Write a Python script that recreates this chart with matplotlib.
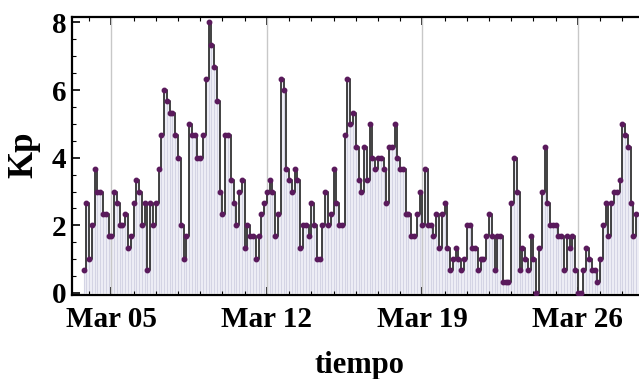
import numpy as np
import pandas as pd
import matplotlib
matplotlib.use("Agg")
import matplotlib.pyplot as plt
import matplotlib.dates as mdates
from matplotlib.ticker import MultipleLocator

# Kp index, 3-hourly, March 2012
kp_part1 = [0.67, 2.67, 1.0, 2.0, 3.67, 3.0, 3.0, 2.33, 2.33, 1.67, 1.67, 3.0, 2.67,
            2.0, 2.0, 2.33, 1.33, 1.67, 2.67, 3.33, 3.0, 2.0, 2.67, 0.67, 2.67, 2.0,
            2.67, 3.67, 4.67, 6.0, 5.67, 5.33, 5.33, 4.67, 4.0, 2.0, 1.0, 1.67, 5.0,
            4.67, 4.67, 4.0, 4.0, 4.67, 6.33, 8.0, 7.33, 6.67, 5.67, 3.0, 2.33, 4.67,
            4.67, 3.33, 2.67, 2.0, 3.0, 3.33, 1.33, 2.0, 1.67, 1.67, 1.0, 1.67]
kp_part2 = [2.33, 2.67, 3.0, 3.33, 3.0, 1.67, 2.33, 6.33, 6.0, 3.67, 3.33, 3.0, 3.67,
            3.33, 1.33, 2.0, 2.0, 1.67, 2.67, 2.0, 1.0, 1.0, 2.0, 3.0, 2.0, 2.33,
            3.67, 2.67, 2.0, 2.0, 4.67, 6.33, 5.0, 5.33, 4.33, 3.33, 3.0, 4.33, 3.33,
            5.0, 4.0, 3.67, 4.0, 4.0, 3.67, 2.67, 4.33, 4.33, 5.0, 4.0, 3.67, 3.67,
            2.33, 2.33, 1.67, 1.67, 2.33, 3.0, 2.0, 3.67, 2.0, 2.0, 1.67, 2.33, 1.33,
            2.33, 2.67, 1.33, 0.67]
kp_part3 = [1.0, 1.33, 1.0, 0.67, 1.0, 2.0, 2.0, 1.33, 1.33, 0.67, 1.0, 1.0, 1.67,
            2.33, 1.67, 0.67, 1.67, 1.67, 0.33, 0.33, 0.33, 2.67, 4.0, 3.0, 0.67,
            1.33, 1.0, 0.67, 1.67, 1.0, 0.0, 1.33, 3.0, 4.33, 2.67, 2.0, 2.0, 2.0,
            1.67, 1.67, 0.67, 1.67, 1.33, 1.67, 0.67, 0.0, 0.0, 0.67, 1.33, 1.0,
            0.67, 0.67, 0.33, 1.0, 2.0, 2.67, 1.67, 2.67, 3.0, 3.0, 3.33, 5.0, 4.67,
            4.33, 2.67, 1.67, 2.33]
kp = np.array(kp_part1 + kp_part2 + kp_part3)
start = "2012-03-03 18:00"
times = pd.date_range(start, periods=len(kp), freq="3h")
tick_dates = pd.to_datetime(["2012-03-05", "2012-03-12", "2012-03-19", "2012-03-26"])

plt.rcParams['font.family'] = ['Liberation Serif', 'DejaVu Serif']
plt.rcParams['font.weight'] = 'bold'

fig = plt.figure(figsize=(6.39, 3.79), dpi=100)
ax = fig.add_axes([72/639, 1-295/379, 567/639, 278/379])

t_end = times[-1] + pd.Timedelta(hours=3)
tx = list(times) + [t_end]
ky = list(kp) + [kp[-1]]

# filling with a thin line per sample
ax.fill_between(tx, 0, ky, step='post', color='#efeff7', lw=0, zorder=1)
ax.vlines(times, 0, kp, color='#d4d4e4', lw=0.8, zorder=1.5)
for d in tick_dates:
    ax.axvline(d, color='#c8c8c8', lw=1.0, zorder=2)

ax.step(tx, ky, where='post', color='#333333', lw=1.3, zorder=3)
ax.plot(times, kp, 'o', ms=3.2, color='#5a1a5c', zorder=4)

ax.set_xlim(pd.Timestamp("2012-03-03 05:30"), t_end)
ax.set_ylim(-0.06, 8.16)

ax.xaxis.set_major_locator(mdates.DayLocator(bymonthday=[5, 12, 19, 26]))
ax.xaxis.set_major_formatter(mdates.DateFormatter('%b %d'))
ax.xaxis.set_minor_locator(mdates.DayLocator())
ax.yaxis.set_major_locator(MultipleLocator(2))
ax.yaxis.set_minor_locator(MultipleLocator(0.5))

ax.tick_params(which='both', direction='in', top=True, labelsize=21, pad=8)
ax.tick_params(which='major', length=6, width=1.2)
ax.tick_params(which='minor', length=3, width=0.8)
ax.tick_params(axis='y', pad=4)
for lbl in ax.get_xticklabels() + ax.get_yticklabels():
    lbl.set_fontweight('bold')

for s in ax.spines.values():
    s.set_linewidth(1.6)
ax.spines['right'].set_visible(False)

fig.text(359/639, 1-366/379, 'tiempo', ha='center', va='center',
         fontsize=22, fontweight='bold')
fig.text(24/639, 1-155/379, 'Kp', ha='center', va='center', rotation=90,
         fontsize=25, fontweight='bold')

fig.savefig('out.png', dpi=100)
